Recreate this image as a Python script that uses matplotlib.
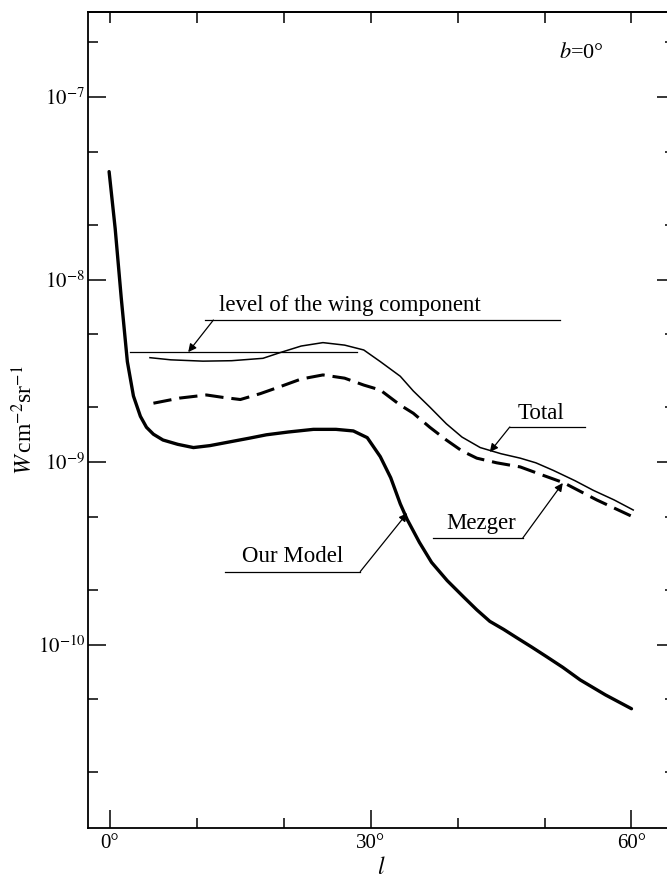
import numpy as np
import matplotlib
matplotlib.use("Agg")
import matplotlib.pyplot as plt
from matplotlib.ticker import FixedLocator, NullFormatter, NullLocator

plt.rcParams["font.family"] = ["Liberation Serif", "DejaVu Serif"]
plt.rcParams["mathtext.fontset"] = "stix"

# Galactic longitude (deg) and surface brightness (W cm^-2 sr^-1) at b = 0
l_model = [-0.1, 0.6, 1.3, 2.0, 2.7, 3.5, 4.2, 5.0, 6.1, 7.8, 9.6, 11.5, 13.8,
           16.0, 18.0, 20.5, 23.4, 26.0, 28.0, 29.6, 31.1, 32.3, 33.4, 34.2,
           35.6, 37.0, 38.8, 40.7, 42.2, 43.7, 45.3, 46.8, 48.5, 50.2, 52.1,
           54.1, 57.0, 60.0]
v_model = [3.9e-8, 1.9e-8, 7.9e-9, 3.55e-9, 2.3e-9, 1.78e-9, 1.55e-9, 1.42e-9,
           1.32e-9, 1.25e-9, 1.2e-9, 1.23e-9, 1.29e-9, 1.35e-9, 1.41e-9,
           1.46e-9, 1.51e-9, 1.51e-9, 1.48e-9, 1.36e-9, 1.07e-9, 8.2e-10,
           5.9e-10, 4.84e-10, 3.63e-10, 2.82e-10, 2.24e-10, 1.82e-10, 1.55e-10,
           1.34e-10, 1.21e-10, 1.09e-10, 9.7e-11, 8.6e-11, 7.5e-11, 6.4e-11,
           5.3e-11, 4.45e-11]

l_total = [4.6, 7.0, 10.7, 14.0, 17.6, 19.6, 22.0, 24.5, 27.0, 29.2, 31.1,
           33.4, 34.9, 36.8, 38.7, 40.5, 42.6, 45.0, 47.2, 49.0, 51.0, 53.5,
           55.6, 58.0, 60.2]
v_total = [3.73e-9, 3.63e-9, 3.57e-9, 3.59e-9, 3.7e-9, 3.98e-9, 4.32e-9,
           4.51e-9, 4.37e-9, 4.11e-9, 3.55e-9, 2.95e-9, 2.45e-9, 2.0e-9,
           1.62e-9, 1.37e-9, 1.2e-9, 1.11e-9, 1.05e-9, 9.9e-10, 9.0e-10,
           7.9e-10, 7.0e-10, 6.2e-10, 5.46e-10]

l_mezger = [5.0, 8.0, 11.1, 13.0, 15.0, 17.3, 19.6, 22.0, 24.5, 27.0, 29.2,
            31.1, 33.4, 34.9, 36.8, 38.7, 40.5, 42.2, 44.5, 47.2, 49.7, 52.2,
            56.0, 60.2]
v_mezger = [2.1e-9, 2.24e-9, 2.33e-9, 2.26e-9, 2.2e-9, 2.37e-9, 2.59e-9,
            2.85e-9, 3.0e-9, 2.88e-9, 2.64e-9, 2.48e-9, 2.05e-9, 1.85e-9,
            1.55e-9, 1.32e-9, 1.15e-9, 1.05e-9, 9.9e-10, 9.4e-10, 8.5e-10,
            7.7e-10, 6.2e-10, 5.0e-10]

wing_level = 4.0e-9
wing_span = [2.3, 28.4]

x_major = [0, 30, 60]
x_minor = [10, 20, 40, 50]
x_ticklabels = ["0°", "30°", "60°"]
y_major = [1e-10, 1e-9, 1e-8, 1e-7]
y_ticklabels = [r"$10^{-10}$", r"$10^{-9}$", r"$10^{-8}$", r"$10^{-7}$"]
y_minor = [2e-11, 5e-11, 2e-10, 5e-10, 2e-9, 5e-9, 2e-8, 5e-8, 2e-7]

fig = plt.figure(figsize=(6.67, 8.77), dpi=100)
ax = fig.add_axes([0.1319, 0.0559, 0.880, 0.9305])

ax.plot(l_model, v_model, color="black", lw=2.4, solid_capstyle="round",
        solid_joinstyle="round")
ax.plot(l_total, v_total, color="black", lw=1.1, solid_joinstyle="round")
ax.plot(l_mezger, v_mezger, color="black", lw=2.2, dashes=(6, 2.6))
ax.plot(wing_span, [wing_level, wing_level], color="black", lw=0.9)

ax.set_yscale("log")
ax.set_xlim(-2.53, 65.0)
ax.set_ylim(10 ** -11.005, 10 ** -6.534)

ax.xaxis.set_major_locator(FixedLocator(x_major))
ax.xaxis.set_minor_locator(FixedLocator(x_minor))
ax.set_xticklabels(x_ticklabels)
ax.yaxis.set_major_locator(FixedLocator(y_major))
ax.yaxis.set_minor_locator(FixedLocator(y_minor))
ax.set_yticklabels(y_ticklabels)
ax.yaxis.set_minor_formatter(NullFormatter())

ax.tick_params(axis="both", which="both", direction="in", width=1.1,
               labelsize=15, colors="black")
ax.tick_params(axis="x", which="major", length=13, top=False, pad=4)
ax.tick_params(axis="x", which="minor", length=7, top=False)
ax.tick_params(axis="y", which="major", length=13, right=True, pad=2)
ax.tick_params(axis="y", which="minor", length=7, right=True)

# short ticks along the top edge
top = ax.secondary_xaxis("top")
top.xaxis.set_major_locator(FixedLocator(x_major + x_minor))
top.xaxis.set_minor_locator(NullLocator())
top.tick_params(direction="in", length=8, width=1.1, labeltop=False)

for s in ax.spines.values():
    s.set_linewidth(1.3)
top.spines["top"].set_linewidth(1.3)

ax.set_xlabel(r"$l$", fontsize=17, labelpad=3)
ax.set_ylabel(r"$W\,$cm$^{-2}$sr$^{-1}$", fontsize=17, labelpad=0)

ax.text(56.8, 10 ** -6.76, r"$b$=0°", fontsize=16, ha="right", va="center")

fs = 16.5
arrow = dict(arrowstyle="-|>", color="black", lw=0.9, mutation_scale=12,
             shrinkA=0, shrinkB=0)

# Total
ax.plot([46.0, 54.7], [10 ** -8.808] * 2, color="black", lw=0.9)
ax.text(49.6, 10 ** -8.735, "Total", fontsize=fs, ha="center", va="center")
ax.annotate("", xy=(43.7, 10 ** -8.945), xytext=(46.0, 10 ** -8.808),
            arrowprops=arrow)

# Mezger
ax.plot([37.2, 47.5], [10 ** -9.416] * 2, color="black", lw=0.9)
ax.text(42.7, 10 ** -9.335, "Mezger", fontsize=fs, ha="center", va="center")
ax.annotate("", xy=(52.1, 10 ** -9.115), xytext=(47.5, 10 ** -9.416),
            arrowprops=arrow)

# Our Model
ax.plot([13.2, 28.8], [10 ** -9.6] * 2, color="black", lw=0.9)
ax.text(21.0, 10 ** -9.515, "Our Model", fontsize=fs, ha="center",
        va="center")
ax.annotate("", xy=(34.2, 10 ** -9.28), xytext=(28.8, 10 ** -9.6),
            arrowprops=arrow)

# wing component level
ax.plot([10.9, 51.8], [10 ** -8.222] * 2, color="black", lw=0.9)
ax.text(12.5, 10 ** -8.14, "level of the wing component", fontsize=fs,
        ha="left", va="center")
ax.annotate("", xy=(9.0, wing_level), xytext=(11.9, 10 ** -8.222),
            arrowprops=arrow)

fig.savefig("out.png", dpi=100)
